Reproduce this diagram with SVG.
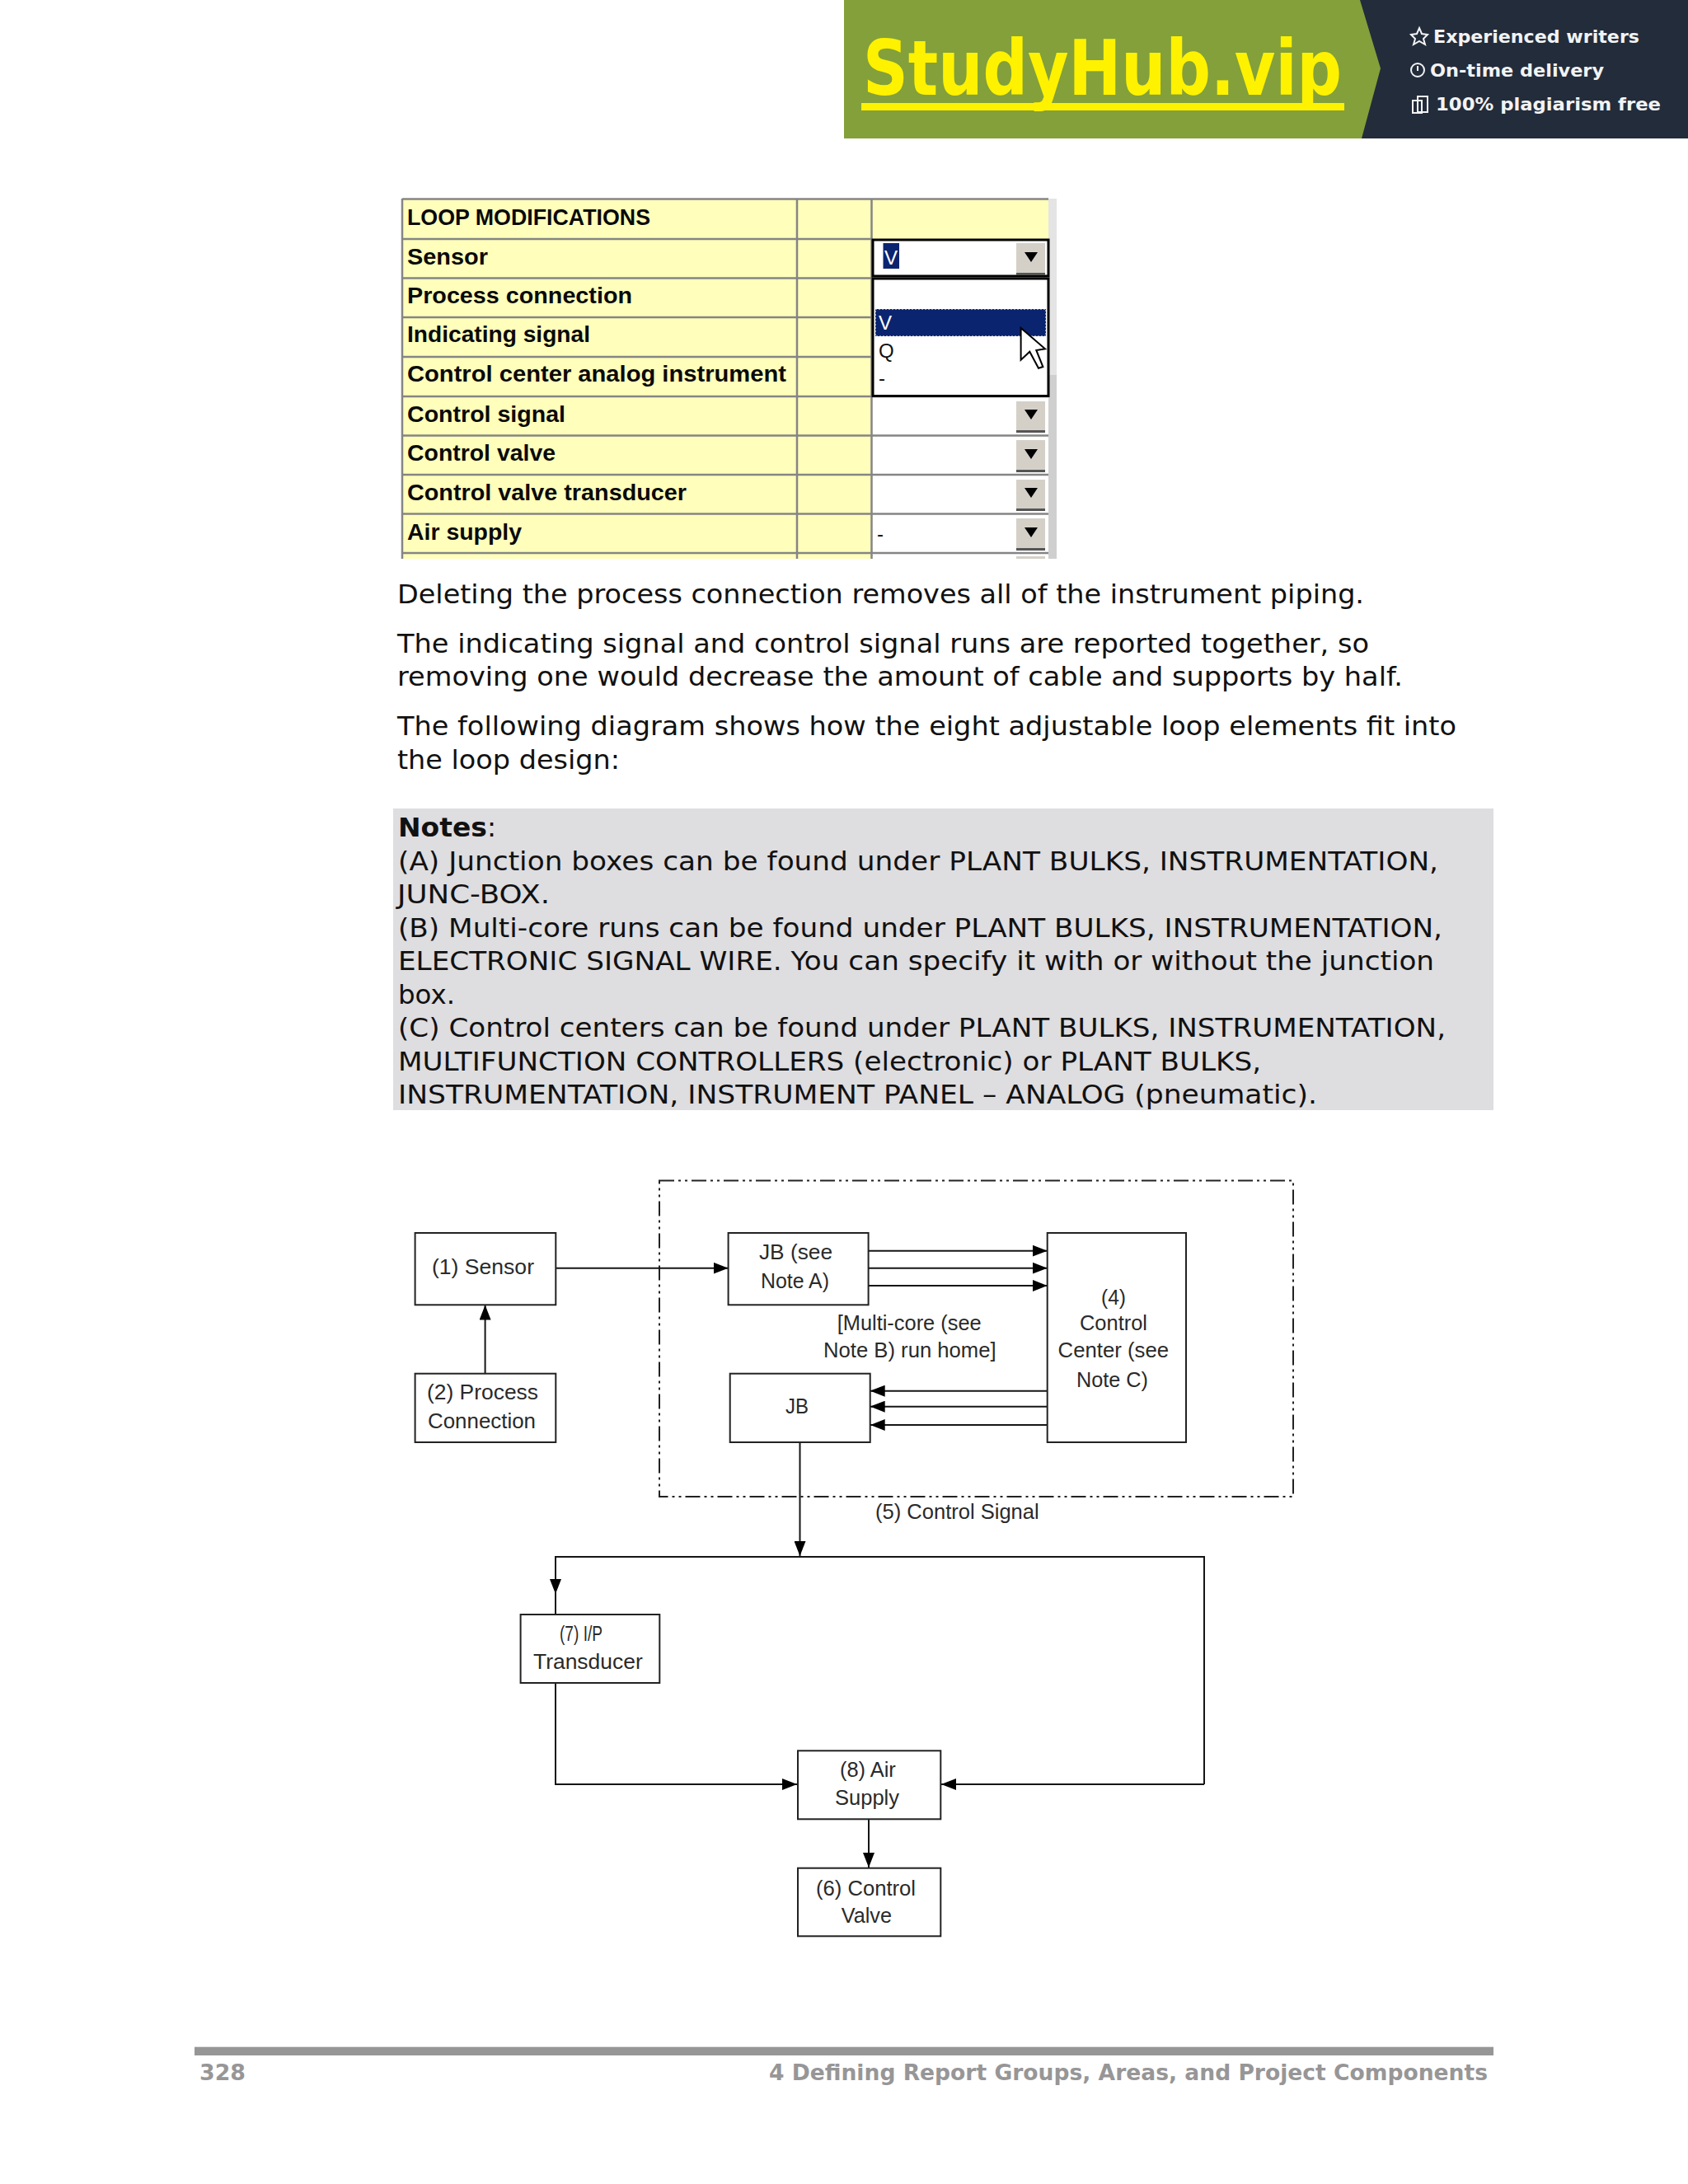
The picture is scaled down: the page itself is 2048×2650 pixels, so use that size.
<svg xmlns="http://www.w3.org/2000/svg" width="2048" height="2650" viewBox="0 0 2048 2650">
<defs>
<style>
text{font-family:"DejaVu Sans",Verdana,sans-serif;fill:#111}
.body{font-size:32px}
.side{font-size:22px;font-weight:bold;fill:#f2f3f4}
.foot{font-size:26px;font-weight:bold;fill:#979697}
.cell{font-family:"Liberation Sans",Arial,sans-serif;font-size:27px;font-weight:bold;fill:#0a0a0a}
.val{font-family:"Liberation Sans",Arial,sans-serif;font-size:24px;fill:#111}
.lab{font-family:"Liberation Sans",Arial,sans-serif;font-size:26px;fill:#2a2a2a}
.grid{stroke:#858585;stroke-width:2.5;fill:none}
.box{fill:#fff;stroke:#222;stroke-width:2}
.wire{fill:none;stroke:#151515;stroke-width:2}
.btn{fill:#d4d0c8}
.shade{fill:#555}
.tri{fill:#000}
.icon{fill:none;stroke:#f2f3f4;stroke-width:2}
</style>
<marker id="arrow" markerUnits="userSpaceOnUse" markerWidth="18" markerHeight="14" refX="18" refY="7" orient="auto"><path d="M0 0L18 7L0 14Z" fill="#000"/></marker>
<marker id="mid" markerUnits="userSpaceOnUse" markerWidth="18" markerHeight="14" refX="18" refY="7" orient="auto"><path d="M0 0L18 7L0 14Z" fill="#000"/></marker>
</defs>
<rect width="2048" height="2650" fill="#fff"/>

<g id="banner">
<rect x="1024" y="0" width="1024" height="168" fill="#83a03a"/>
<polygon points="1650,0 2048,0 2048,168 1652,168 1675,83" fill="#232c3b"/>
<text x="1047" y="115" font-size="92" font-weight="bold" style="fill:#fff200" textLength="581" lengthAdjust="spacingAndGlyphs">StudyHub.vip</text>
<rect x="1045" y="125" width="586" height="9" fill="#fff200"/>
<polygon class="icon" points="1722,34 1725,41 1732,42 1727,47 1729,54 1722,50 1715,54 1717,47 1712,42 1719,41"/>
<circle class="icon" cx="1720" cy="85" r="8"/><path class="icon" d="M1720 80V86"/>
<rect class="icon" x="1720" y="117" width="12" height="19"/><rect class="icon" x="1714" y="122" width="11" height="15"/>
<text class="side" x="1739" y="52" textLength="250" lengthAdjust="spacingAndGlyphs">Experienced writers</text>
<text class="side" x="1735" y="93" textLength="211" lengthAdjust="spacingAndGlyphs">On-time delivery</text>
<text class="side" x="1742" y="134" textLength="273" lengthAdjust="spacingAndGlyphs">100% plagiarism free</text>
</g>

<g id="loop-table">
<rect x="1272" y="241" width="10" height="214" fill="#e4e4e4"/>
<rect x="1272" y="455" width="10" height="223" fill="#cfcfcf"/>
<rect x="488" y="241" width="784" height="437" fill="#ffffbb"/>
<rect x="1058" y="481" width="214" height="197" fill="#fff"/>
<path class="grid" d="M488 241.500H1272M488 290H1058M488 337.500H1058M488 385H1058M488 433H1058M488 481H1272M488 528.500H1272M488 576H1272M488 623.500H1272M488 671H1272M488 241V678M967 241V678M1057.500 241V678"/>
<text class="cell" x="494" y="272.700" textLength="295" lengthAdjust="spacingAndGlyphs">LOOP MODIFICATIONS</text>
<text class="cell" x="494" y="320.700" textLength="98" lengthAdjust="spacingAndGlyphs">Sensor</text>
<text class="cell" x="494" y="367.700" textLength="273" lengthAdjust="spacingAndGlyphs">Process connection</text>
<text class="cell" x="494" y="415" textLength="222" lengthAdjust="spacingAndGlyphs">Indicating signal</text>
<text class="cell" x="494" y="463" textLength="460" lengthAdjust="spacingAndGlyphs">Control center analog instrument</text>
<text class="cell" x="494" y="511.700" textLength="192" lengthAdjust="spacingAndGlyphs">Control signal</text>
<text class="cell" x="494" y="559" textLength="180" lengthAdjust="spacingAndGlyphs">Control valve</text>
<text class="cell" x="494" y="606.700" textLength="339" lengthAdjust="spacingAndGlyphs">Control valve transducer</text>
<text class="cell" x="494" y="655" textLength="139" lengthAdjust="spacingAndGlyphs">Air supply</text>

<rect x="1059" y="291" width="213" height="44" fill="#fff" stroke="#000" stroke-width="3"/>
<rect x="1071.500" y="295" width="19.500" height="31" fill="#0b2470"/>
<text class="val" x="1073" y="321" style="fill:#fff">V</text>
<rect class="btn" x="1233" y="295" width="35" height="38"/><rect class="shade" x="1233" y="331" width="35" height="3"/>
<polygon class="tri" points="1243,306 1259,306 1251,318"/>

<rect x="1059" y="338" width="213" height="142.500" fill="#fff" stroke="#000" stroke-width="3"/>
<rect x="1062" y="375" width="207" height="33" fill="#0b2470"/>
<rect x="1062" y="375" width="207" height="33" fill="none" stroke="#fff" stroke-width="1" stroke-dasharray="2 2"/>
<text class="val" x="1066" y="400" style="fill:#fff">V</text>
<text class="val" x="1066" y="434">Q</text>
<text class="val" x="1066" y="467">-</text>
<polygon points="1238.600,398 1238.600,436.700 1249.300,426.700 1260,446.700 1265.400,445 1257.300,425 1268,423.300" fill="#fff" stroke="#000" stroke-width="2"/>

<rect class="btn" x="1233" y="487" width="35" height="37"/><rect class="shade" x="1233" y="522" width="35" height="3"/><polygon class="tri" points="1243,497 1259,497 1251,509"/>
<rect class="btn" x="1233" y="534" width="35" height="38"/><rect class="shade" x="1233" y="570" width="35" height="3"/><polygon class="tri" points="1243,545 1259,545 1251,557"/>
<rect class="btn" x="1233" y="582" width="35" height="37"/><rect class="shade" x="1233" y="617" width="35" height="3"/><polygon class="tri" points="1243,592 1259,592 1251,604"/>
<rect class="btn" x="1233" y="629" width="35" height="38"/><rect class="shade" x="1233" y="665" width="35" height="3"/><polygon class="tri" points="1243,640 1259,640 1251,652"/>
<text class="val" x="1064" y="656">-</text>
<rect class="btn" x="1233" y="675" width="35" height="3"/>
</g>

<g id="body-text">
<text class="body" x="482" y="731.700" textLength="1173" lengthAdjust="spacingAndGlyphs">Deleting the process connection removes all of the instrument piping.</text>
<text class="body" x="482" y="791.700" textLength="1179" lengthAdjust="spacingAndGlyphs">The indicating signal and control signal runs are reported together, so</text>
<text class="body" x="482" y="832" textLength="1220" lengthAdjust="spacingAndGlyphs">removing one would decrease the amount of cable and supports by half.</text>
<text class="body" x="482" y="892" textLength="1285" lengthAdjust="spacingAndGlyphs">The following diagram shows how the eight adjustable loop elements fit into</text>
<text class="body" x="482" y="933" textLength="270" lengthAdjust="spacingAndGlyphs">the loop design:</text>
</g>

<g id="notes">
<rect x="477" y="981" width="1335" height="366" fill="#dedde0"/>
<text class="body" x="483" y="1015" textLength="119" lengthAdjust="spacingAndGlyphs"><tspan font-weight="bold">Notes</tspan>:</text>
<text class="body" x="483" y="1055.700" textLength="1262" lengthAdjust="spacingAndGlyphs">(A) Junction boxes can be found under PLANT BULKS, INSTRUMENTATION,</text>
<text class="body" x="482" y="1096" textLength="185" lengthAdjust="spacingAndGlyphs">JUNC-BOX.</text>
<text class="body" x="483" y="1136.700" textLength="1267" lengthAdjust="spacingAndGlyphs">(B) Multi-core runs can be found under PLANT BULKS, INSTRUMENTATION,</text>
<text class="body" x="483" y="1177.300" textLength="1257" lengthAdjust="spacingAndGlyphs">ELECTRONIC SIGNAL WIRE. You can specify it with or without the junction</text>
<text class="body" x="483" y="1217.700" textLength="69" lengthAdjust="spacingAndGlyphs">box.</text>
<text class="body" x="483" y="1258.300" textLength="1271" lengthAdjust="spacingAndGlyphs">(C) Control centers can be found under PLANT BULKS, INSTRUMENTATION,</text>
<text class="body" x="483" y="1299" textLength="1047" lengthAdjust="spacingAndGlyphs">MULTIFUNCTION CONTROLLERS (electronic) or PLANT BULKS,</text>
<text class="body" x="483" y="1339.300" textLength="1115" lengthAdjust="spacingAndGlyphs">INSTRUMENTATION, INSTRUMENT PANEL – ANALOG (pneumatic).</text>
</g>

<g id="connectors">
<rect x="800" y="1432.500" width="769" height="383.500" fill="none" stroke="#222" stroke-width="2" stroke-dasharray="18 5 3 5 3 5"/>
<path class="wire" d="M674 1538.700H883.500" marker-end="url(#arrow)"/>
<path class="wire" d="M588.600 1666.700V1583.500" marker-end="url(#arrow)"/>
<path class="wire" d="M1053.600 1517.700H1270.700" marker-end="url(#arrow)"/>
<path class="wire" d="M1053.600 1538.700H1270.700" marker-end="url(#arrow)"/>
<path class="wire" d="M1053.600 1560H1270.700" marker-end="url(#arrow)"/>
<path class="wire" d="M1270.700 1687.700H1055.700" marker-end="url(#arrow)"/>
<path class="wire" d="M1270.700 1706.700H1055.700" marker-end="url(#arrow)"/>
<path class="wire" d="M1270.700 1729H1055.700" marker-end="url(#arrow)"/>
<path class="wire" d="M970.500 1750V1888" marker-end="url(#arrow)"/>
<path class="wire" d="M1461 2165V1889H674V1934" marker-end="url(#mid)"/>
<path class="wire" d="M674 1930V1959"/>
<path class="wire" d="M674 2042V2165H967" marker-end="url(#arrow)"/>
<path class="wire" d="M1461 2165H1142" marker-end="url(#arrow)"/>
<path class="wire" d="M1054 2207.300V2266" marker-end="url(#arrow)"/>
</g>

<g id="node-sensor"><rect class="box" x="503.600" y="1496" width="170.700" height="87.300"/><text class="lab" x="524" y="1546" textLength="124" lengthAdjust="spacingAndGlyphs">(1) Sensor</text></g>
<g id="node-process-connection"><rect class="box" x="503.600" y="1666.700" width="170.700" height="83.300"/><text class="lab" x="518" y="1698" textLength="135" lengthAdjust="spacingAndGlyphs">(2) Process</text><text class="lab" x="519" y="1732.700" textLength="131" lengthAdjust="spacingAndGlyphs">Connection</text></g>
<g id="node-jb-a"><rect class="box" x="883.600" y="1496" width="170" height="87.300"/><text class="lab" x="921" y="1528" textLength="89" lengthAdjust="spacingAndGlyphs">JB (see</text><text class="lab" x="923" y="1562.700" textLength="83" lengthAdjust="spacingAndGlyphs">Note A)</text></g>
<g id="node-jb"><rect class="box" x="885.700" y="1666.700" width="170" height="83.300"/><text class="lab" x="953" y="1715" textLength="28" lengthAdjust="spacingAndGlyphs">JB</text></g>
<g id="node-control-center"><rect class="box" x="1270.700" y="1496" width="168.300" height="254"/><text class="lab" x="1336" y="1583" textLength="30" lengthAdjust="spacingAndGlyphs">(4)</text><text class="lab" x="1310" y="1614" textLength="82" lengthAdjust="spacingAndGlyphs">Control</text><text class="lab" x="1283.600" y="1647" textLength="134.400" lengthAdjust="spacingAndGlyphs">Center (see</text><text class="lab" x="1306" y="1682.700" textLength="87" lengthAdjust="spacingAndGlyphs">Note C)</text></g>
<g id="node-transducer"><rect class="box" x="631.600" y="1959" width="168.700" height="83"/><text class="lab" x="679" y="1990.700" textLength="52" lengthAdjust="spacingAndGlyphs">(7) I/P</text><text class="lab" x="647" y="2025" textLength="132.700" lengthAdjust="spacingAndGlyphs">Transducer</text></g>
<g id="node-air-supply"><rect class="box" x="968" y="2124.300" width="173.300" height="83"/><text class="lab" x="1019" y="2156" textLength="67.800" lengthAdjust="spacingAndGlyphs">(8) Air</text><text class="lab" x="1013" y="2190" textLength="78" lengthAdjust="spacingAndGlyphs">Supply</text></g>
<g id="node-control-valve"><rect class="box" x="968" y="2266.700" width="173.300" height="82.600"/><text class="lab" x="990" y="2300" textLength="121" lengthAdjust="spacingAndGlyphs">(6) Control</text><text class="lab" x="1020.800" y="2332.700" textLength="61.200" lengthAdjust="spacingAndGlyphs">Valve</text></g>

<g id="diagram-labels">
<text class="lab" x="1015.700" y="1614" textLength="175" lengthAdjust="spacingAndGlyphs">[Multi-core (see</text>
<text class="lab" x="999" y="1647" textLength="209.600" lengthAdjust="spacingAndGlyphs">Note B) run home]</text>
<text class="lab" x="1062" y="1842.700" textLength="198.700" lengthAdjust="spacingAndGlyphs">(5) Control Signal</text>
</g>

<g id="footer">
<rect x="236" y="2483.700" width="1576" height="10.300" fill="#979697"/>
<text class="foot" x="242" y="2524" textLength="56" lengthAdjust="spacingAndGlyphs">328</text>
<text class="foot" x="933" y="2524" textLength="872" lengthAdjust="spacingAndGlyphs">4 Defining Report Groups, Areas, and Project Components</text>
</g>
</svg>
